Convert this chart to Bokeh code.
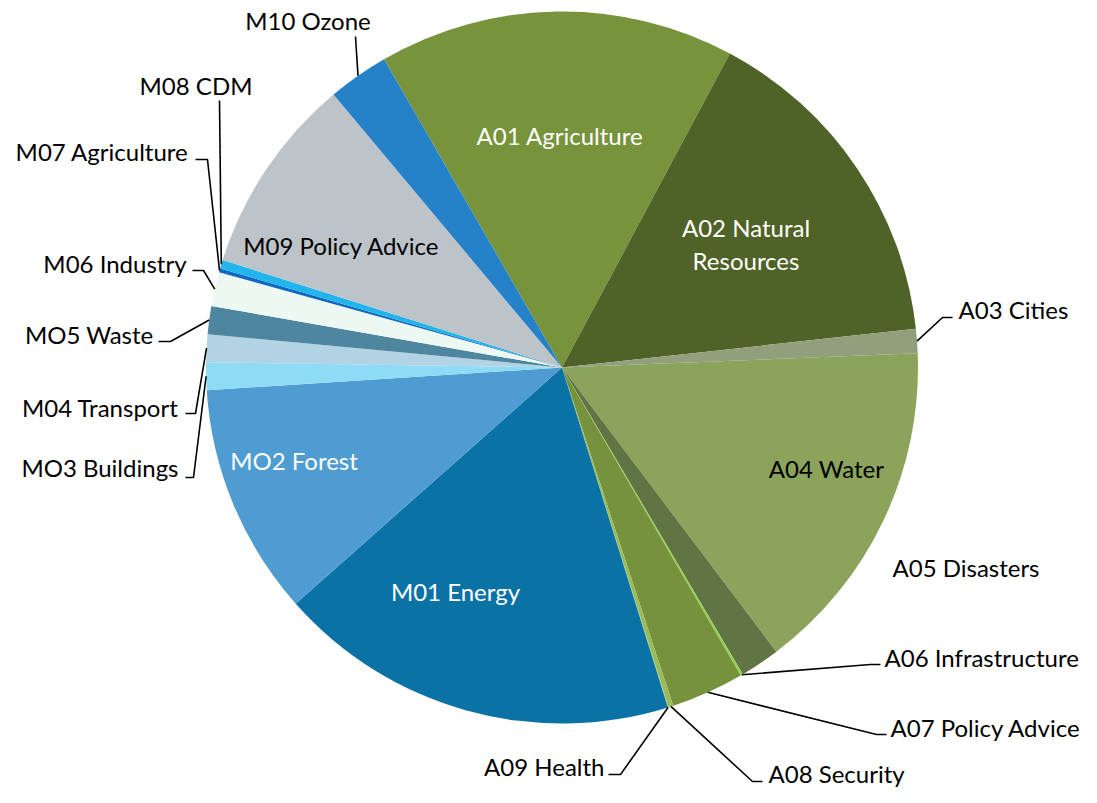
import numpy as np
from bokeh.plotting import figure
from bokeh.models import Range1d
from bokeh.embed import file_html
from bokeh.resources import INLINE
from bokeh.core.properties import value

# ---------------- data ----------------
categories = ["A01 Agriculture", "A02 Natural Resources", "A03 Cities", "A04 Water",
              "A05 Disasters", "A06 Infrastructure", "A07 Policy Advice", "A08 Security",
              "A09 Health", "M01 Energy", "MO2 Forest", "MO3 Buildings", "M04 Transport",
              "MO5 Waste", "M06 Industry", "M07 Agriculture", "M08 CDM",
              "M09 Policy Advice", "M10 Ozone"]
shares = [16.1, 15.4, 1.1, 15.3, 1.8, 0.11, 3.3, 0.22, 0.03, 18.2, 10.5,
          1.25, 1.25, 1.27, 1.54, 0.18, 0.39, 9.0, 2.75]
colors = ["#77933c", "#4f6228", "#929f7c", "#8ca35c", "#617444", "#92d050",
          "#76923c", "#9bbb59", "#aacc77", "#0b72a6", "#4f9cd3", "#8edbf6",
          "#b1d3e4", "#4e86a0", "#eef8f2", "#0f68c4", "#22b5ec", "#bdc4c9", "#2581c8"]

# ---------------- layout (canvas pixel coordinates) ----------------
FIRST_SLICE_DEG = 330.0
CX, CY, R = 561.5, 367.0, 356.0
FONT = value("Lato")
FS = "24px"
W, H = 1081, 787

# inside labels: (text, x center, vertical centre y, color)
inside = [("A01 Agriculture", 559.5, 135, "white"),
          ("A02 Natural", 745.5, 227, "white"),
          ("Resources", 745.5, 260, "white"),
          ("A04 Water", 826, 468, "black"),
          ("M09 Policy Advice", 341, 245, "black"),
          ("MO2 Forest", 293.5, 460, "white"),
          ("M01 Energy", 455, 591, "white")]

# outside labels: category index, anchor x, centre y, align, leader points after edge point
outside = [(18, 307.5, 20, "center", [(355, 36)]),
           (16, 195.5, 85, "center", [(219, 100)]),
           (15, 188, 151, "right", [(207, 159), (195, 159)]),
           (14, 186, 263, "right", [(203, 270), (192, 270)]),
           (13, 153, 334, "right", [(170, 341), (158, 341)]),
           (12, 178, 407, "right", [(195, 413), (185, 413)]),
           (11, 178, 467, "right", [(193, 477), (185, 477)]),
           (2, 958, 309, "left", [(942, 317), (952, 317)]),
           (4, 892, 567, "left", []),
           (5, 884, 657, "left", [(870, 664), (880, 664)]),
           (6, 890, 727, "left", [(876, 734), (886, 734)]),
           (7, 768, 773, "left", [(752, 781), (762, 781)]),
           (8, 604, 766, "right", [(620, 774), (608, 774)])]

# ---------------- computation ----------------
vals = np.array(shares, dtype=float)
frac = vals / vals.sum()
end_cw = FIRST_SLICE_DEG + np.cumsum(frac) * 360.0
start_cw = end_cw - frac * 360.0
mid_cw = (start_cw + end_cw) / 2.0

p = figure(width=W, height=H, output_backend="svg", toolbar_location=None,
           x_range=Range1d(0, W), y_range=Range1d(-H, 0),
           min_border=0, background_fill_color="white", border_fill_color="white")
p.axis.visible = False
p.grid.visible = False
p.outline_line_color = None

p.wedge(x=CX, y=-CY, radius=R,
        start_angle=np.radians(90.0 - end_cw), end_angle=np.radians(90.0 - start_cw),
        direction="anticlock", fill_color=colors, line_color=None)

# leader lines
xs, ys = [], []
for idx, ax, by, align, pts in outside:
    if not pts:
        continue
    a = np.radians(mid_cw[idx])
    ex = CX + R * np.sin(a)
    ey = CY - R * np.cos(a)
    xs.append([ex] + [q[0] for q in pts])
    ys.append([-ey] + [-q[1] for q in pts])
p.multi_line(xs=xs, ys=ys, line_color="black", line_width=1.6)

for t, x, y, c in inside:
    p.text(x=[x], y=[-y], text=[t], text_font=FONT, text_font_size=FS,
           text_align="center", text_baseline="middle", text_color=c)

for idx, ax, by, align, pts in outside:
    p.text(x=[ax], y=[-by], text=[categories[idx]], text_font=FONT, text_font_size=FS,
           text_align=align, text_baseline="middle", text_color="black")

open("out.html", "w").write(file_html(p, INLINE))
